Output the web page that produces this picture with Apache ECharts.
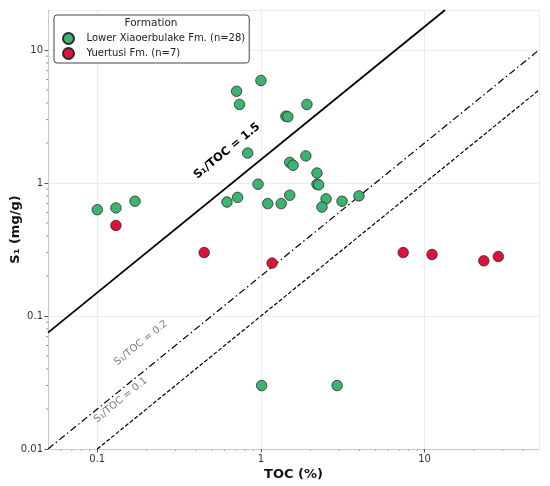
<!DOCTYPE html>
<html>
<head>
<meta charset="utf-8">
<script src="https://cdn.jsdelivr.net/npm/echarts@6/dist/echarts.min.js"></script>
<style>html,body{margin:0;padding:0;background:#fff}#c{width:550px;height:486px}</style>
</head>
<body>
<div id="c"></div>
<script>
var seriesNames = ['Lower Xiaoerbulake Fm. (n=28)', 'Yuertusi Fm. (n=7)'];
var greenTOC = [0.10,0.13,0.17,0.71,0.74,1.0,0.83,1.42,1.46,1.91,0.96,0.62,0.72,1.1,1.33,1.50,1.50,1.57,1.88,2.2,2.2,2.25,2.5,2.36,3.13,3.97,1.01,2.92];
var greenS1  = [0.63,0.65,0.73,4.9,3.9,5.9,1.68,3.18,3.15,3.9,0.98,0.72,0.78,0.70,0.70,0.81,1.43,1.36,1.60,1.19,0.98,0.97,0.76,0.66,0.73,0.80,0.030,0.030];
var redTOC = [0.13,0.45,1.17,7.4,11.1,23.0,28.2];
var redS1  = [0.48,0.30,0.25,0.30,0.29,0.26,0.28];
var ratios = [1.5, 0.2, 0.1];
var ratioLabels = ['S\u2081/TOC = 1.5', 'S\u2081/TOC = 0.2', 'S\u2081/TOC = 0.1'];
var labelAnchors = [[0.62,1.74],[0.185,0.0627],[0.139,0.0233]];
var xMin = 0.05, xMax = 50, yMin = 0.01, yMax = 20;
var xTickLabels = ['0.1','1','10'];
var yTickLabels = ['0.01','0.1','1','10'];

function zip(a,b){return a.map(function(v,i){return [v,b[i]];});}
function ratioLine(k){
  var x0 = Math.max(xMin, yMin/k), x1 = Math.min(xMax, yMax/k);
  return [[x0, k*x0],[x1, k*x1]];
}
var lineStyles = [
  {color:'#000', width:1.8, type:'solid'},
  {color:'#000', width:1.2, type:[7,3,1.5,3]},
  {color:'#000', width:1.2, type:[4,2]}
];

var chart = echarts.init(document.getElementById('c'));
var fmt = function(v){
  var s = String(+v.toPrecision(3));
  return (xTickLabels.indexOf(s) >= 0 || yTickLabels.indexOf(s) >= 0) ? s : '';
};
var series = [];
ratios.forEach(function(k,i){
  series.push({type:'line', data: ratioLine(k), symbol:'none', silent:true, lineStyle: lineStyles[i], z:1});
});
series.push({name: seriesNames[0], type:'scatter', data: zip(greenTOC, greenS1), symbolSize: 10.5,
  itemStyle:{color:'#3cb371', borderColor:'#2b2b2b', borderWidth:0.8, opacity:1}, z:3});
series.push({name: seriesNames[1], type:'scatter', data: zip(redTOC, redS1), symbolSize: 10.5,
  itemStyle:{color:'#dc143c', borderColor:'#2b2b2b', borderWidth:0.8, opacity:1}, z:3});

chart.setOption({
  animation:false,
  textStyle:{fontFamily:'DejaVu Sans'},
  grid:{left:48, right:11, top:10, bottom:37, containLabel:false, outerBoundsMode:'none'},
  legend:{
    data: seriesNames, orient:'vertical', left:54, top:15,
    padding:[17, 4, 3, 8], itemGap:2, itemWidth:26, itemHeight:11,
    borderColor:'#444', borderWidth:1, borderRadius:3, backgroundColor:'#fff',
    icon:'circle',
    textStyle:{fontSize:10, lineHeight:11, color:'#222', fontFamily:'DejaVu Sans'}
  },
  xAxis:{
    type:'log', logBase:10, min:xMin, max:xMax,
    name:'TOC (%)', nameLocation:'middle', nameGap:19, nameMoveOverlap:false,
    nameTextStyle:{fontSize:13, fontWeight:'bold', color:'#111', fontFamily:'DejaVu Sans'},
    axisLine:{show:true, onZero:false, lineStyle:{color:'#c8c8c8', width:1}},
    axisTick:{show:true, length:3.5, lineStyle:{color:'#555'}},
    axisLabel:{fontSize:10, color:'#333', margin:5, formatter: fmt, showMinLabel:false, showMaxLabel:false},
    splitLine:{show:true, lineStyle:{color:'#ececec', width:1}}
  },
  yAxis:{
    type:'log', logBase:10, min:yMin, max:yMax,
    name:'S\u2081 (mg/g)', nameLocation:'middle', nameGap:26, nameMoveOverlap:false,
    nameTextStyle:{fontSize:13, fontWeight:'bold', color:'#111', fontFamily:'DejaVu Sans'},
    axisLine:{show:true, onZero:false, lineStyle:{color:'#c8c8c8', width:1}},
    axisTick:{show:true, length:3.5, lineStyle:{color:'#555'}},
    axisLabel:{fontSize:10, color:'#333', margin:5, formatter: fmt, showMaxLabel:false},
    splitLine:{show:true, lineStyle:{color:'#ececec', width:1}}
  },
  series: series
});

function px(x,y){return chart.convertToPixel({gridIndex:0},[x,y]);}
var g = [];
var lo = px(xMin,yMin);
[0.01,0.1,1,10].forEach(function(d){
  for (var m=2;m<=9;m++){
    var v = d*m;
    if (v > xMin && v < xMax){
      var p = px(v, yMin);
      g.push({type:'line', shape:{x1:p[0],y1:lo[1],x2:p[0],y2:lo[1]+2}, style:{stroke:'#777', lineWidth:0.8}, silent:true});
    }
    if (v > yMin && v < yMax){
      var q = px(xMin, v);
      g.push({type:'line', shape:{x1:lo[0],y1:q[1],x2:lo[0]-2,y2:q[1]}, style:{stroke:'#777', lineWidth:0.8}, silent:true});
    }
  }
});
var a0 = px(1,1), a1 = px(10,10);
var ang = Math.atan2(a0[1]-a1[1], a1[0]-a0[0]);
var labStyles = [
  {fill:'#000', fontSize:11.5, fontWeight:'bold'},
  {fill:'#7a7a7a', fontSize:10, fontWeight:'normal'},
  {fill:'#7a7a7a', fontSize:10, fontWeight:'normal'}
];
labelAnchors.forEach(function(a,i){
  var p = px(a[0],a[1]);
  g.push({type:'text', x:p[0], y:p[1], rotation:ang, z:5,
    style:{text:ratioLabels[i], fill:labStyles[i].fill, fontSize:labStyles[i].fontSize, fontWeight:labStyles[i].fontWeight,
      fontFamily:'DejaVu Sans', align:'center', verticalAlign:'middle'}});
});
g.push({type:'text', x:151, y:23, z:100,
  style:{text:'Formation', fill:'#222', fontSize:10.5, fontFamily:'DejaVu Sans', align:'center', verticalAlign:'middle'}});
chart.setOption({graphic: g});
</script>
</body>
</html>
